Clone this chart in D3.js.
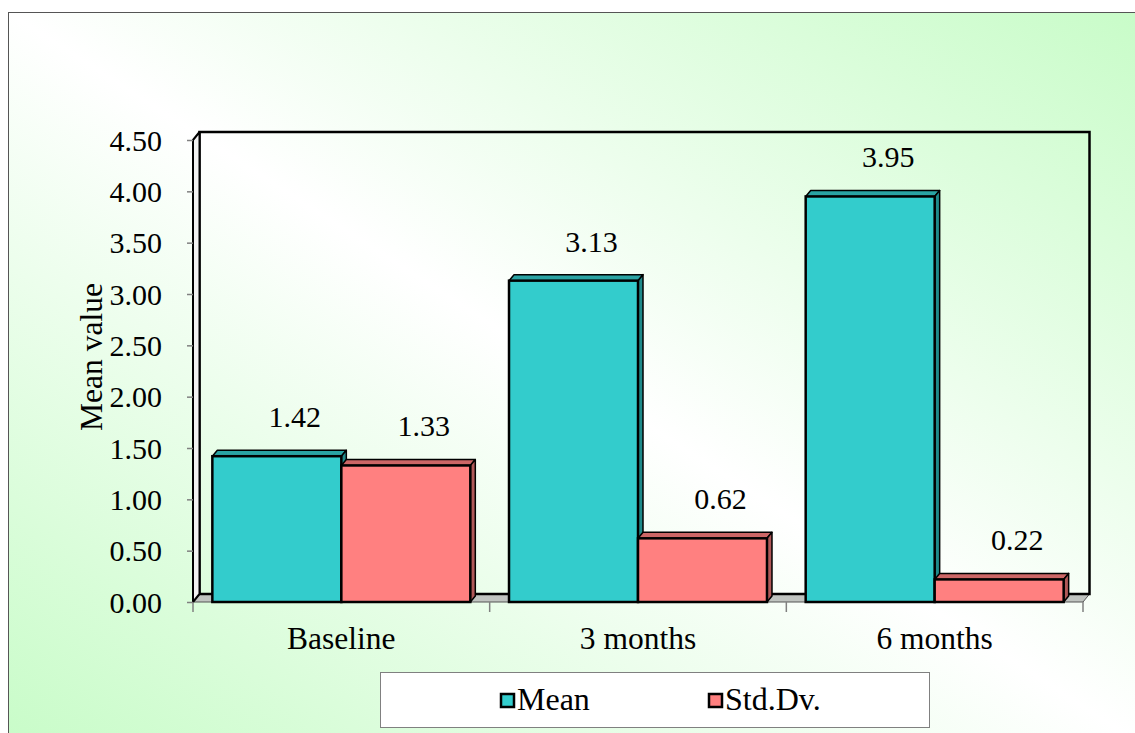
<!DOCTYPE html>
<html>
<head>
<meta charset="utf-8">
<script src="https://cdn.jsdelivr.net/npm/d3@7"></script>
<style>
html,body{margin:0;padding:0;background:#fff;}
svg{display:block;font-family:"Liberation Serif","Times New Roman",serif;}
</style>
</head>
<body>
<svg id="chart" width="1135" height="733"></svg>
<script>
const categories = ["Baseline", "3 months", "6 months"];
const seriesNames = ["Mean", "Std.Dv."];
const meanValues = [1.42, 3.13, 3.95];
const stdValues = [1.33, 0.62, 0.22];
const yTicks = [0, 0.5, 1, 1.5, 2, 2.5, 3, 3.5, 4, 4.5];
const yTitle = "Mean value";

const svg = d3.select("#chart");
const W = 1135, H = 733;

// background
const defs = svg.append("defs");
const grad = defs.append("linearGradient").attr("id","bg")
  .attr("x1",0).attr("y1",1).attr("x2",1).attr("y2",0);
grad.append("stop").attr("offset",0).attr("stop-color","#c8fcc8");
grad.append("stop").attr("offset",0.5).attr("stop-color","#ffffff");
grad.append("stop").attr("offset",1).attr("stop-color","#c8fcc8");
svg.append("rect").attr("x",8.5).attr("y",12.5).attr("width",W).attr("height",H)
  .attr("fill","url(#bg)").attr("stroke","#555").attr("stroke-width",1);

const plotL = 193, plotR = 1083, plotT = 140, plotB = 602;
const dX = 6.5, dY = -8;   // wall depth
const bX = 5, bY = -6;     // bar depth

const x0 = d3.scaleBand().domain(categories).range([plotL, plotR]).padding(0);
const x1 = d3.scaleBand().domain(seriesNames).range([0, x0.bandwidth()])
  .paddingInner(0).paddingOuter(0.15);
const y = d3.scaleLinear().domain([0, 4.5]).range([plotB, plotT]);

// floor
svg.append("polygon")
  .attr("points", [[plotL,plotB],[plotL+dX,plotB+dY],[plotR+dX,plotB+dY],[plotR,plotB]].join(" "))
  .attr("fill","#c0c4c0").attr("stroke","#555").attr("stroke-width",1);
// back wall
svg.append("rect").attr("x",plotL+dX).attr("y",y(4.5)+dY)
  .attr("width",plotR-plotL).attr("height",plotB-plotT)
  .attr("fill","none").attr("stroke","#000").attr("stroke-width",2.5);
// side wall
svg.append("polygon")
  .attr("points", [[plotL,plotB],[plotL,plotT],[plotL+dX,plotT+dY],[plotL+dX,plotB+dY]].join(" "))
  .attr("fill","#f2f2f2").attr("stroke","#000").attr("stroke-width",2).attr("stroke-linejoin","round");

// y axis ticks and labels
const yAxis = d3.axisLeft(y).tickValues(yTicks).tickSize(6).tickFormat(d3.format(".2f"));
const gy = svg.append("g").attr("transform",`translate(${plotL},0)`).call(yAxis);
gy.select(".domain").remove();
gy.selectAll(".tick line").attr("stroke","#808080").attr("stroke-width",1.5);
gy.selectAll(".tick text").attr("x",-31).attr("dy","0.34em")
  .attr("font-size",30).attr("font-family","Liberation Serif").attr("fill","#000");

// x axis ticks at category boundaries
const bounds = categories.map(c => x0(c)).concat([x0(categories[categories.length-1]) + x0.bandwidth()]);
svg.selectAll("line.xt").data(bounds).join("line").attr("class","xt")
  .attr("x1",d=>d).attr("x2",d=>d).attr("y1",plotB).attr("y2",plotB+10)
  .attr("stroke","#808080").attr("stroke-width",1.5);
svg.selectAll("text.xl").data(categories).join("text").attr("class","xl")
  .attr("x",d=>x0(d)+x0.bandwidth()/2).attr("y",649)
  .attr("text-anchor","middle").attr("font-size",31.5).text(d=>d);

// y title
svg.append("text").attr("transform","translate(102,357) rotate(-90)")
  .attr("text-anchor","middle").attr("font-size",31.5).text(yTitle);

// bars
const colors = {
  "Mean": {front:"#33cccc", top:"#2aa3a3", side:"#1f8a8a"},
  "Std.Dv.": {front:"#ff8080", top:"#cc6666", side:"#b05858"}
};
const rows = categories.map((c,i) => ({cat:c, vals:[{s:"Mean",v:meanValues[i]},{s:"Std.Dv.",v:stdValues[i]}]}));
rows.forEach(r => {
  const g = svg.append("g");
  r.vals.forEach(d => {
    const xa = x0(r.cat) + x1(d.s), xb = xa + x1.bandwidth();
    const yt = y(d.v), yb = y(0);
    const c = colors[d.s];
    g.append("polygon").attr("points",[[xa,yt],[xa+bX,yt+bY],[xb+bX,yt+bY],[xb,yt]].join(" "))
      .attr("fill",c.top).attr("stroke","#000").attr("stroke-width",1.5).attr("stroke-linejoin","round");
    g.append("polygon").attr("points",[[xb,yt],[xb+bX,yt+bY],[xb+bX,yb+bY],[xb,yb]].join(" "))
      .attr("fill",c.side).attr("stroke","#000").attr("stroke-width",1.5).attr("stroke-linejoin","round");
    g.append("rect").attr("x",xa).attr("y",yt).attr("width",xb-xa).attr("height",yb-yt)
      .attr("fill",c.front).attr("stroke","#000").attr("stroke-width",2.5);
  });
});
// value labels
rows.forEach(r => {
  r.vals.forEach(d => {
    const xc = x0(r.cat) + x1(d.s) + x1.bandwidth()/2 + 18;
    svg.append("text").attr("x",xc).attr("y",y(d.v)-29)
      .attr("text-anchor","middle").attr("font-size",30).text(d3.format(".2f")(d.v));
  });
});

// legend
svg.append("rect").attr("x",380.5).attr("y",672.5).attr("width",549).attr("height",55)
  .attr("fill","#fff").attr("stroke","#808080").attr("stroke-width",1);
const legX = [500, 708];
seriesNames.forEach((s,i) => {
  svg.append("rect").attr("x",legX[i]+1).attr("y",694).attr("width",13).attr("height",13)
    .attr("fill",colors[s].front).attr("stroke","#000").attr("stroke-width",2.5);
  svg.append("text").attr("x",legX[i]+17).attr("y",710).attr("font-size",32).text(s);
});
</script>
</body>
</html>
